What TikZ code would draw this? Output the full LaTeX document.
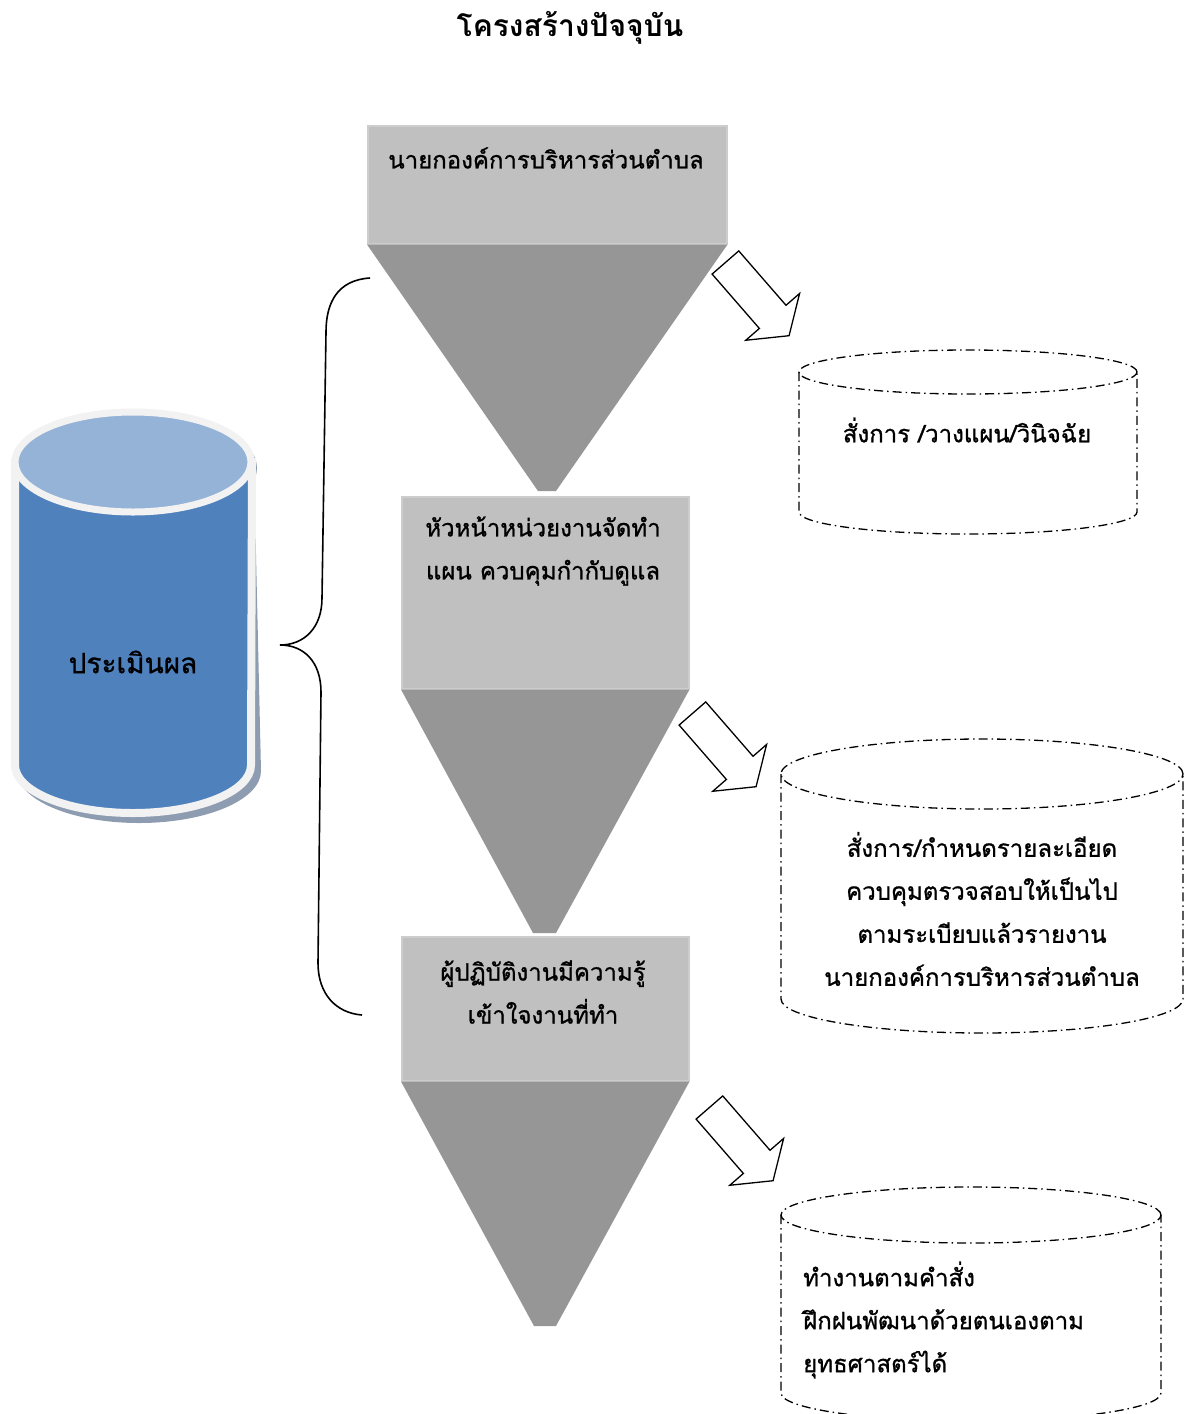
\documentclass[tikz,border=0pt]{standalone}
\usepackage{fontspec}
\newfontfamily\thaifont[Script=Thai, FakeBold=1]{Loma}
\newfontfamily\thaititle[Script=Thai]{Loma}
\usetikzlibrary{shapes.arrows}

\definecolor{boxgray}{HTML}{C0C0C0}
\definecolor{boxedge}{HTML}{CDCDCD}
\definecolor{funnelgray}{HTML}{969696}
\definecolor{evaltop}{HTML}{95B3D7}
\definecolor{evalbody}{HTML}{4F81BD}
\definecolor{evalrim}{HTML}{F2F2F2}
\definecolor{evalshadow}{HTML}{8E9CB1}

\tikzset{
  level/.style={fill=boxgray, draw=boxedge, line width=1.5pt, anchor=north west, inner sep=0pt},
  funnel/.style={fill=funnelgray},
  txt/.style={font=\thaifont\fontsize{24}{43}\selectfont, align=center, inner sep=0pt},
  hint/.style={draw, line width=1.3pt, dash pattern=on 9pt off 4pt on 1.5pt off 4pt},
  push/.style={single arrow, draw, fill=white, line width=1.3pt, anchor=tail, rotate=-49,
    minimum height=97pt, minimum width=0pt, inner xsep=0pt, inner ysep=17pt,
    single arrow head extend=18pt, single arrow tip angle=110},
  brace/.style={draw, line width=1.6pt}
}

\begin{document}
\begin{tikzpicture}[x=1pt, y=-1pt]
\useasboundingbox (0,0) rectangle (1193,1414);

\node[txt, font=\thaititle\bfseries\fontsize{30}{36}\selectfont] (title) at (570,28) {โครงสร้างปัจจุบัน};

% evaluation cylinder
\begin{scope}[shift={(2,6)}]
\fill[evalshadow] (15,462) -- (15,765) arc[start angle=180, end angle=360, x radius=122pt, y radius=52pt] -- (252,462) -- cycle;
\fill[evalshadow] (133,462) ellipse [x radius=122pt, y radius=54pt];
\end{scope}
\draw[evalrim, fill=evalbody, line width=8pt] (15,462) -- (15,765) arc[start angle=180, end angle=360, x radius=118pt, y radius=48pt] -- (252,462) -- cycle;
\draw[evalrim, fill=evaltop, line width=7pt] (133,462) ellipse [x radius=118pt, y radius=50pt];
\node[txt, font=\thaifont\fontsize{28}{34}\selectfont] (eval) at (133,662) {ประเมินผล};

% brace
\path[brace] (370,278) .. controls (338,280) and (326,302) .. (326,332)
  -- (322,598) .. controls (322,628) and (304,645) .. (280,645)
  .. controls (304,645) and (321,662) .. (321,692)
  -- (318,963) .. controls (318,994) and (336,1013) .. (362,1015);

% funnels
\coordinate (tip1l) at (538,491); \coordinate (tip1r) at (556,491);
\coordinate (tip2l) at (533,933); \coordinate (tip2r) at (556,933);
\coordinate (tip3l) at (534,1326); \coordinate (tip3r) at (556,1326);

\node[level, minimum width=359pt, minimum height=118pt] (chief) at (367,125) {};
\fill[funnel] (chief.south west) -- (chief.south east) -- (tip1r) -- (tip1l) -- cycle;
\node[level, minimum width=287pt, minimum height=192pt] (head) at (401,496) {};
\fill[funnel] (head.south west) -- (head.south east) -- (tip2r) -- (tip2l) -- cycle;
\node[level, minimum width=287pt, minimum height=144pt] (staff) at (401,936) {};
\fill[funnel] (staff.south west) -- (staff.south east) -- (tip3r) -- (tip3l) -- cycle;

\node[txt] (chieftxt) at (546,158) {นายกองค์การบริหารส่วนตำบล};
\node[txt] (headtxt) at (543,551) {หัวหน้าหน่วยงานจัดทำ\\แผน ควบคุมกำกับดูแล};
\node[txt] (stafftxt) at (543,992) {ผู้ปฏิบัติงานมีความรู้\\เข้าใจงานที่ทำ};

% block arrows
\node[push] (push1) at (725,262) {};
\node[push] (push2) at (692,713) {};
\node[push] (push3) at (709,1107) {};

% duty cylinders
\draw[hint] (968,372) ellipse [x radius=169pt, y radius=22pt];
\draw[hint] (799,372) -- (799,512) arc[start angle=180, end angle=360, x radius=169pt, y radius=22pt] -- (1137,372);
\node[txt] (chiefduty) at (967,430) {สั่งการ /วางแผน/วินิจฉัย};

\draw[hint] (982,774) ellipse [x radius=201pt, y radius=35pt];
\draw[hint] (781,774) -- (781,999) arc[start angle=180, end angle=360, x radius=201pt, y radius=34pt] -- (1183,774);
\node[txt] (headduty) at (982,909) {สั่งการ/กำหนดรายละเอียด\\ควบคุมตรวจสอบให้เป็นไป\\ตามระเบียบแล้วรายงาน\\นายกองค์การบริหารส่วนตำบล};

\draw[hint] (971,1215) ellipse [x radius=190pt, y radius=28pt];
\draw[hint] (781,1215) -- (781,1393) arc[start angle=180, end angle=360, x radius=190pt, y radius=28pt] -- (1161,1215);
\node[txt, align=left, anchor=west] (staffduty) at (803,1320) {ทำงานตามคำสั่ง\\ฝึกฝนพัฒนาด้วยตนเองตาม\\ยุทธศาสตร์ได้};
\end{tikzpicture}
\end{document}
